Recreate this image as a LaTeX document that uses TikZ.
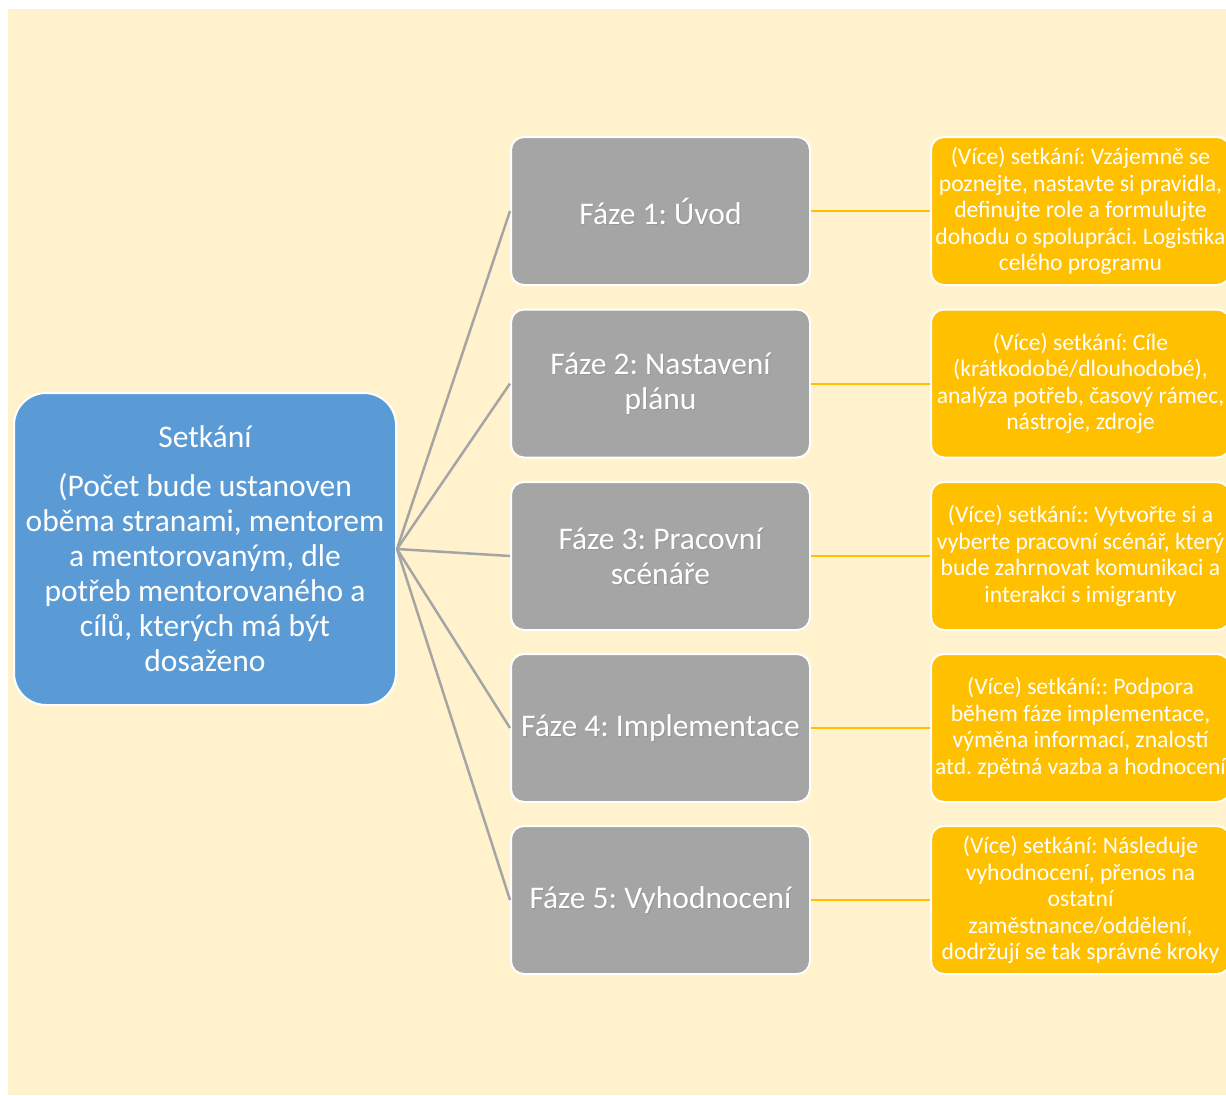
\documentclass[tikz,border=0pt]{standalone}
\usepackage{fontspec}
\setmainfont{Carlito}
\definecolor{cream}{HTML}{FFF2CC}
\definecolor{hubblue}{HTML}{5B9BD5}
\definecolor{phasegray}{HTML}{A5A5A5}
\definecolor{notegold}{HTML}{FFC000}
\tikzset{
  hub/.style={draw=white, line width=2pt, fill=hubblue, rounded corners=32pt,
    minimum width=382pt, minimum height=312pt, text=white, align=center,
    font=\frenchspacing\fontsize{31.5}{35}\selectfont},
  phase/.style={draw=white, line width=2pt, fill=phasegray, rounded corners=13pt,
    minimum width=299pt, minimum height=148pt, text=white, align=center,
    font=\frenchspacing\fontsize{31.5}{35}\selectfont},
  phaseshadow/.style={text=black!45, opacity=0.6, align=center,
    font=\frenchspacing\fontsize{31.5}{35}\selectfont},
  note/.style={draw=white, line width=2pt, fill=notegold, rounded corners=13pt,
    minimum width=299pt, minimum height=148pt, text=white, align=center,
    font=\frenchspacing\fontsize{23.6}{26.5}\selectfont},
  spoke/.style={draw=phasegray, line width=2.5pt},
  link/.style={draw=notegold, line width=2pt}
}
\begin{document}
\begin{tikzpicture}[x=1pt,y=-1pt]
  % page and background panel
  \useasboundingbox (0,0) rectangle (1226,1095);
  \clip (0,0) rectangle (1226,1095);
  \fill[white] (0,0) rectangle (1226,1095);
  \fill[cream] (8,9) rectangle (1226,1095);

  % central meeting box
  \node[hub] (hub) at (205,549) {Setkání\\[14pt]
    (Počet bude ustanoven\\ oběma stranami, mentorem\\ a mentorovaným, dle\\
    potřeb mentorovaného a\\ cílů, kterých má být\\ dosaženo};

  % phases
  \node[phase] (p1) at (660.5,211) {};
  \node[phase] (p2) at (660.5,383.5) {};
  \node[phase] (p3) at (660.5,556) {};
  \node[phase] (p4) at (660.5,728) {};
  \node[phase] (p5) at (660.5,900) {};
  \foreach \n/\t in {p1/{Fáze 1: Úvod}, p2/{Fáze 2: Nastavení\\ plánu},
      p3/{Fáze 3: Pracovní\\ scénáře}, p4/{Fáze 4: Implementace},
      p5/{Fáze 5: Vyhodnocení}} {
    \node[phaseshadow] (\n s) at ([shift={(1pt,-1.2pt)}]\n.center) {\t};
    \node[phase, draw=none, fill=none] (\n t) at (\n.center) {\t};
  }

  % notes for each phase
  \node[note] (n1) at (1080.5,211) {(Více) setkání: Vzájemně se\\ poznejte, nastavte si pravidla,\\ definujte role a formulujte\\ dohodu o spolupráci. Logistika\\ celého programu};
  \node[note] (n2) at (1080.5,383.5) {(Více) setkání: Cíle\\ (krátkodobé/dlouhodobé),\\ analýza potřeb, časový rámec,\\ nástroje, zdroje};
  \node[note] (n3) at (1080.5,556) {(Více) setkání:: Vytvořte si a\\ vyberte pracovní scénář, který\\ bude zahrnovat komunikaci a\\ interakci s imigranty};
  \node[note] (n4) at (1080.5,728) {(Více) setkání:: Podpora\\ během fáze implementace,\\ výměna informací, znalostí\\ atd. zpětná vazba a hodnocení};
  \node[note] (n5) at (1080.5,900) {(Více) setkání: Následuje\\ vyhodnocení, přenos na\\ ostatní\\ zaměstnance/oddělení,\\ dodržují se tak správné kroky};

  % connectors
  \foreach \n in {p1,p2,p3,p4,p5} {
    \draw[spoke] (hub.east) -- (\n.west);
  }
  \foreach \i in {1,...,5} {
    \draw[link] (p\i.east) -- (n\i.west);
  }
\end{tikzpicture}
\end{document}
